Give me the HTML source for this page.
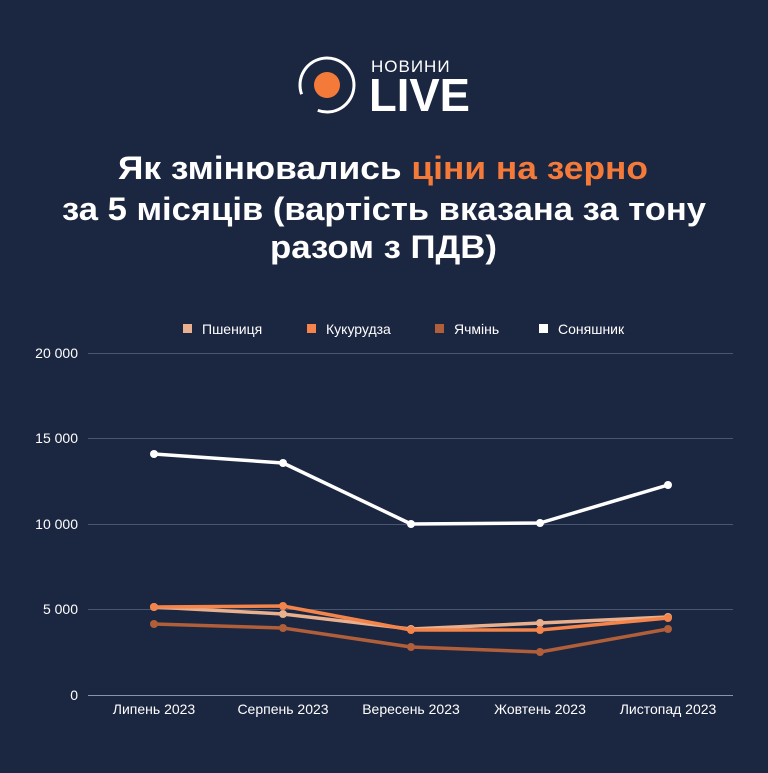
<!DOCTYPE html>
<html><head><meta charset="utf-8"><style>
html,body{margin:0;padding:0}
body{width:768px;height:768px;background:#1b2640;overflow:hidden;font-family:"Liberation Sans",sans-serif}
</style></head><body>
<svg width="768" height="768" viewBox="0 0 768 768" xmlns="http://www.w3.org/2000/svg" font-family="Liberation Sans, sans-serif">
<rect width="768" height="768" fill="#1b2640"/>
<!-- logo -->
<path d="M 301.6 94.2 A 27 27 0 1 1 317.8 110.4" fill="none" stroke="#fff" stroke-width="3"/>
<circle cx="327" cy="85" r="13" fill="#f47a3a"/>
<text x="371" y="72" font-size="17" fill="#fff" letter-spacing="1">НОВИНИ</text>
<text x="369" y="111" font-size="46" font-weight="bold" fill="#fff" textLength="101" lengthAdjust="spacingAndGlyphs">LIVE</text>
<!-- title -->
<g font-size="32" font-weight="bold" fill="#fff">
<text x="118" y="179" textLength="530" lengthAdjust="spacingAndGlyphs">Як змінювались <tspan fill="#f47a3a">ціни на зерно</tspan></text>
<text x="62" y="220" textLength="644" lengthAdjust="spacingAndGlyphs">за 5 місяців (вартість вказана за тону</text>
<text x="270" y="258" textLength="227" lengthAdjust="spacingAndGlyphs">разом з ПДВ)</text>
</g>
<!-- legend -->
<g font-size="14" fill="#fff">
<rect x="183" y="324" width="9" height="9" fill="#e8b08f"/><text x="202" y="334">Пшениця</text>
<rect x="307" y="324" width="9" height="9" fill="#f4844a"/><text x="326" y="334">Кукурудза</text>
<rect x="435" y="324" width="9" height="9" fill="#b05f3a"/><text x="454" y="334">Ячмінь</text>
<rect x="539" y="324" width="9" height="9" fill="#fff"/><text x="558" y="334">Соняшник</text>
</g>
<!-- grid -->
<g stroke="#4a5570" stroke-width="1">
<line x1="88" y1="353.5" x2="733" y2="353.5"/>
<line x1="88" y1="438.5" x2="733" y2="438.5"/>
<line x1="88" y1="524.5" x2="733" y2="524.5"/>
<line x1="88" y1="609.5" x2="733" y2="609.5"/>
<line x1="88" y1="695.5" x2="733" y2="695.5" stroke="#8a93a8"/>
</g>
<g font-size="14" fill="#fff" text-anchor="end">
<text x="78" y="358">20 000</text>
<text x="78" y="443">15 000</text>
<text x="78" y="529">10 000</text>
<text x="78" y="614">5 000</text>
<text x="78" y="700">0</text>
</g>
<g font-size="14" fill="#fff" text-anchor="middle">
<text x="154" y="714">Липень 2023</text>
<text x="283" y="714">Серпень 2023</text>
<text x="411" y="714">Вересень 2023</text>
<text x="540" y="714">Жовтень 2023</text>
<text x="668" y="714">Листопад 2023</text>
</g>
<!-- series -->
<g fill="none" stroke-width="3.5" stroke-linejoin="round">
<polyline stroke="#b05f3a" points="154,624 283,628 411,647 540,652 668,629"/>
<polyline stroke="#e8b08f" points="154,607 283,614 411,629 540,623 668,617"/>
<polyline stroke="#f4844a" points="154,607 283,606 411,630 540,630 668,618"/>
<polyline stroke="#fff" points="154,454 283,463 411,524 540,523 668,485"/>
</g>
<g fill="#b05f3a"><circle cx="154" cy="624" r="4"/><circle cx="283" cy="628" r="4"/><circle cx="411" cy="647" r="4"/><circle cx="540" cy="652" r="4"/><circle cx="668" cy="629" r="4"/></g>
<g fill="#e8b08f"><circle cx="154" cy="607" r="4"/><circle cx="283" cy="614" r="4"/><circle cx="411" cy="629" r="4"/><circle cx="540" cy="623" r="4"/><circle cx="668" cy="617" r="4"/></g>
<g fill="#f4844a"><circle cx="154" cy="607" r="4"/><circle cx="283" cy="606" r="4"/><circle cx="411" cy="630" r="4"/><circle cx="540" cy="630" r="4"/><circle cx="668" cy="618" r="4"/></g>
<g fill="#fff"><circle cx="154" cy="454" r="4"/><circle cx="283" cy="463" r="4"/><circle cx="411" cy="524" r="4"/><circle cx="540" cy="523" r="4"/><circle cx="668" cy="485" r="4"/></g>
</svg>
</body></html>
